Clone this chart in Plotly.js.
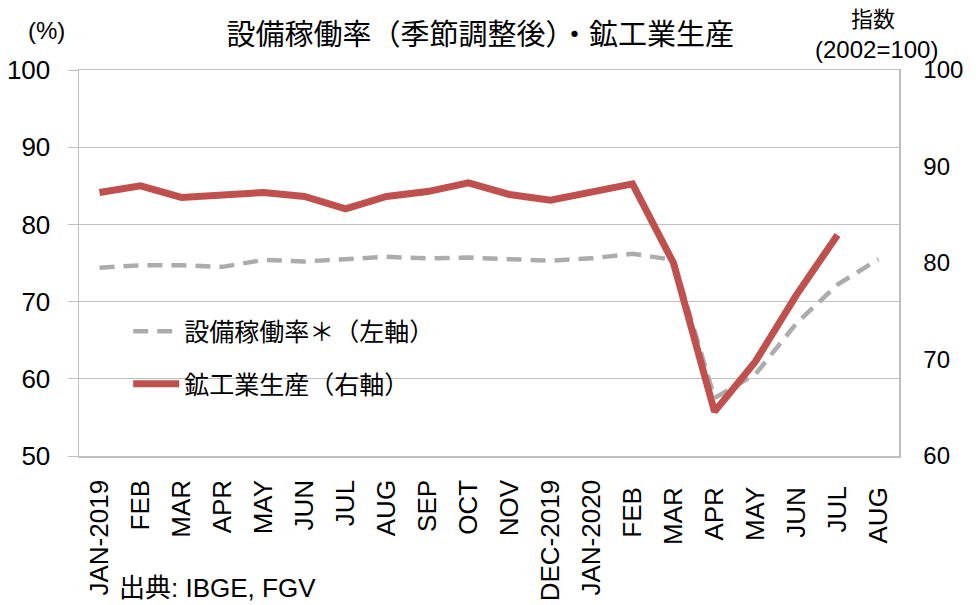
<!DOCTYPE html>
<html>
<head>
<meta charset="utf-8">
<script src="https://cdn.plot.ly/plotly-3.0.1.min.js"></script>
<style>html,body{margin:0;padding:0;background:#fff;}#chart{width:978px;height:605px;}</style>
</head>
<body>
<div id="chart"></div>
<script>
const categories = ["JAN-2019","FEB","MAR","APR","MAY","JUN","JUL","AUG","SEP","OCT","NOV","DEC-2019","JAN-2020","FEB ","MAR ","APR ","MAY ","JUN ","JUL ","AUG "];
const capacityUtil = [74.4,74.7,74.7,74.5,75.4,75.2,75.5,75.8,75.6,75.7,75.5,75.3,75.6,76.2,75.4,57.5,60.6,67.2,72.2,75.5];
const industrialProd = [87.3,88.0,86.8,87.1,87.3,86.9,85.6,86.9,87.4,88.3,87.1,86.5,87.4,88.2,80.0,64.6,69.8,76.7,82.9,null];
const seriesNames = ["設備稼働率＊（左軸）","鉱工業生産（右軸）"];
const titleText = "設備稼働率（季節調整後）・鉱工業生産";
const sourceText = "出典: IBGE, FGV";

const jp = '"Liberation Sans", Arial, "Noto Sans CJK JP", sans-serif';
const num = '"Liberation Sans", Arial, sans-serif';

const traces = [
  {x: categories, y: capacityUtil, name: seriesNames[0], type: 'scatter', mode: 'lines',
   line: {color: '#acacac', width: 4.5, dash: '15px,9px'}, yaxis: 'y', legendgroup: 'a'},
  {x: categories, y: industrialProd, name: seriesNames[1], type: 'scatter', mode: 'lines',
   line: {color: '#c0504d', width: 7}, yaxis: 'y2', legendgroup: 'b'}
];

const layout = {
  width: 978, height: 605,
  margin: {l: 79, r: 79, t: 70, b: 149},
  paper_bgcolor: '#fff', plot_bgcolor: '#fff',
  title: {text: titleText, font: {family: jp, size: 29, color: '#000'}, x: 0.491, xanchor: 'center', y: 0.943, yanchor: 'middle'},
  showlegend: true,
  legend: {x: 0.06, xanchor: 'left', y: 0.382, yanchor: 'top', bgcolor: 'rgba(0,0,0,0)',
           font: {family: jp, size: 25, color: '#000'}, traceorder: 'grouped', tracegroupgap: 17, itemwidth: 46},
  xaxis: {type: 'category', range: [-0.5, 19.5], tickangle: -90, tickfont: {family: num, size: 26, color: '#000'},
          ticklabelstandoff: 12,
          showgrid: false, showline: true, linecolor: '#bfbfbf', linewidth: 1.5, mirror: true,
          ticks: '', fixedrange: true},
  yaxis: {range: [50, 100], dtick: 10, tickfont: {family: num, size: 26, color: '#000'},
          ticklabelstandoff: 12,
          showgrid: true, gridcolor: '#bfbfbf', gridwidth: 1, showline: true, linecolor: '#bfbfbf', linewidth: 1.5,
          ticks: 'outside', ticklen: 10, tickcolor: '#bfbfbf', tickwidth: 1, zeroline: false, fixedrange: true},
  yaxis2: {range: [60, 100], dtick: 10, overlaying: 'y', side: 'right', tickfont: {family: num, size: 24, color: '#000'},
           ticklabelstandoff: 18,
           showgrid: false, showline: true, linecolor: '#bfbfbf', linewidth: 1.5, ticks: '', zeroline: false, fixedrange: true},
  annotations: [
    {text: '(%)', xref: 'paper', yref: 'paper', x: -0.040, y: 1.103, xanchor: 'center', yanchor: 'middle', showarrow: false,
     font: {family: num, size: 24, color: '#000'}},
    {text: '指数', xref: 'paper', yref: 'paper', x: 0.968, y: 1.130, xanchor: 'center', yanchor: 'middle', showarrow: false,
     font: {family: jp, size: 22, color: '#000'}},
    {text: '(2002=100)', xref: 'paper', yref: 'paper', x: 0.973, y: 1.052, xanchor: 'center', yanchor: 'middle', showarrow: false,
     font: {family: num, size: 24, color: '#000'}},
    {text: sourceText, xref: 'paper', yref: 'paper', x: 0.046, y: -0.343, xanchor: 'left', yanchor: 'middle', showarrow: false,
     font: {family: jp, size: 26, color: '#000'}}
  ]
};

Plotly.newPlot('chart', traces, layout, {displayModeBar: false, staticPlot: true});
</script>
</body>
</html>
